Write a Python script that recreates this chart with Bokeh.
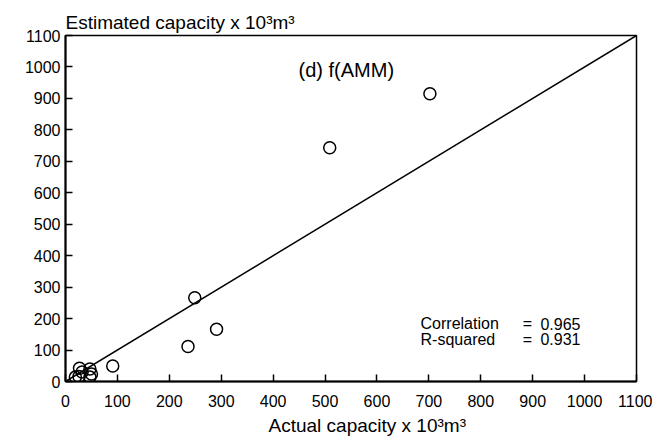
from bokeh.plotting import figure
from bokeh.models import Range1d, Label, Title
from bokeh.embed import file_html
from bokeh.resources import INLINE

# Data (x 10^3 m^3)
actual = [702, 509, 249, 291, 236, 91, 27, 47, 50, 26, 19, 47, 32]
estimated = [915, 743, 266, 166, 111, 49, 42, 40, 24, 16, 14, 14, 30]
fit_x = [0, 1100]
fit_y = [0, 1100]
ticks = list(range(0, 1101, 100))

FONT = "Liberation Sans"

p = figure(width=652, height=440, output_backend="svg", toolbar_location=None,
           x_range=Range1d(0, 1100), y_range=Range1d(0, 1100),
           min_border_left=65, min_border_right=16, min_border_top=35, min_border_bottom=59)
p.title = Title(text="Estimated capacity x 10\u00b3m\u00b3", text_font=FONT, text_font_size="19px",
                text_font_style="normal", align="left", offset=0, standoff=5, text_color="black")
p.add_layout(Title(text="Actual capacity x 10\u00b3m\u00b3", text_font=FONT, text_font_size="19px",
                   text_font_style="normal", align="left", offset=203, standoff=6,
                   text_color="black"), "below")
p.background_fill_color = "white"
p.border_fill_color = "white"
p.outline_line_color = "black"
p.outline_line_width = 1.5
p.xgrid.visible = False
p.ygrid.visible = False

for ax in (p.xaxis, p.yaxis):
    ax.ticker = ticks
    ax.major_tick_in = 7
    ax.major_tick_out = 0
    ax.minor_tick_line_color = None
    ax.axis_line_width = 2
    ax.major_tick_line_width = 1.5
    ax.axis_line_color = "black"
    ax.major_tick_line_color = "black"
    ax.major_label_text_font = FONT
    ax.major_label_text_font_size = "16px"
    ax.major_label_text_color = "black"
p.yaxis.major_label_standoff = 5
p.xaxis.major_label_standoff = 13

p.line(fit_x, fit_y, line_color="black", line_width=1.5)
p.scatter(actual, estimated, marker="circle", size=12, fill_color=None,
          line_color="black", line_width=1.5)

p.add_layout(Label(x=541, y=989, text="(d) f(AMM)", text_font=FONT, text_font_size="20px",
                   text_align="center", text_baseline="middle", text_color="black"))
for txt, xx, yy in [("Correlation", 684, 184), ("R-squared", 684, 134),
                    ("=", 881, 184), ("=", 881, 134),
                    ("0.965", 915, 184), ("0.931", 915, 134)]:
    p.add_layout(Label(x=xx, y=yy, text=txt, text_font=FONT, text_font_size="16px",
                       text_baseline="middle", text_color="black"))

open("out.html", "w").write(file_html(p, INLINE))
